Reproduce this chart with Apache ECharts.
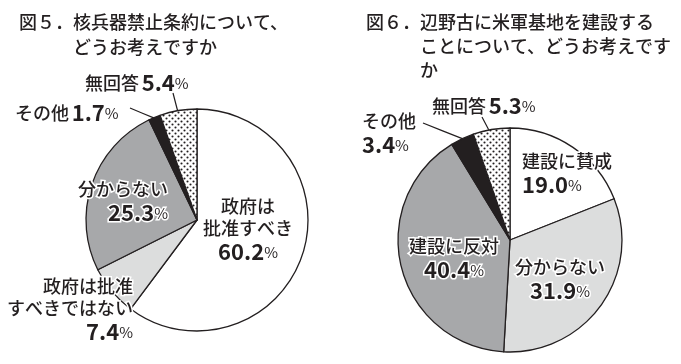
<!DOCTYPE html>
<html><head><meta charset="utf-8">
<script src="https://cdn.jsdelivr.net/npm/echarts@6/dist/echarts.min.js"></script>
<style>html,body{margin:0;padding:0;background:#fff}#c{width:681px;height:364px}</style>
</head><body><div id="c"></div>
<script>
// ---- data ----
const title1 = '図５．核兵器禁止条約について、\n　　　どうお考えですか';
const title2 = '図６．辺野古に米軍基地を建設する\n　　　ことについて、どうお考えです\n　　　か';
const cats1 = ['政府は批准すべき', '政府は批准すべきではない', '分からない', 'その他', '無回答'];
const labelText1 = ['政府は\n批准すべき', '政府は批准\nすべきではない', '分からない', 'その他', '無回答'];
const values1 = [60.2, 7.4, 25.3, 1.7, 5.4];
const cats2 = ['建設に賛成', '分からない', '建設に反対', 'その他', '無回答'];
const labelText2 = ['建設に賛成', '分からない', '建設に反対', 'その他', '無回答'];
const values2 = [19.0, 31.9, 40.4, 3.4, 5.3];

// ---- style / layout ----
const FONT = '"Noto Sans CJK JP", "Noto Sans", sans-serif';
const INK = '#231f20';
const sep1 = ['\n', '\n', '\n', ' ', ' '];
const sep2 = ['\n', '\n', '\n', '\n', ' '];
const outside1 = [false, false, false, true, true];
const outside2 = [false, false, false, true, true];
const P1 = {c: [197, 220], r: 111};
const P2 = {c: [510, 240], r: 112};
const layout1 = [
  {x: 248, y: 230, align: 'center'},
  {x: 133, y: 310, align: 'right'},
  {x: 168, y: 202, align: 'right'},
  {x: 15, y: 113, align: 'left', from: [130, 108], inset: 1},
  {x: 85, y: 83, align: 'left', from: [173, 93], inset: 8}
];
const layout2 = [
  {x: 522, y: 174, align: 'left'},
  {x: 560, y: 280, align: 'center'},
  {x: 454, y: 259, align: 'center'},
  {x: 362, y: 134, align: 'left', from: [423, 123], inset: 0},
  {x: 432, y: 106, align: 'left', from: [482, 117], inset: 8}
];

// dotted pattern
const pc = document.createElement('canvas');
pc.width = 6; pc.height = 6;
const g = pc.getContext('2d');
g.fillStyle = '#fff'; g.fillRect(0, 0, 6, 6);
g.fillStyle = INK;
[[1.5, 1.5], [4.5, 4.5]].forEach(p => { g.beginPath(); g.arc(p[0], p[1], 1.05, 0, Math.PI * 2); g.fill(); });
const colors = ['#ffffff', '#dcdddd', '#a7a8aa', INK, {image: pc, repeat: 'repeat'}];

function buildData(cats, vals, texts, seps, outside) {
  return cats.map((c, i) => ({
    name: c,
    value: vals[i],
    itemStyle: {color: colors[i]},
    label: {
      position: outside[i] ? 'outside' : 'inside',
      formatter: texts[i].split('\n').map(l => '{n|' + l + '}').join('\n') + seps[i] + '{b|' + vals[i].toFixed(1) + '}{p|%}'
    },
    labelLine: {show: outside[i]}
  }));
}

const rich = {
  n: {fontSize: 18, lineHeight: 22, color: INK, fontFamily: FONT, fontWeight: 500},
  b: {fontSize: 22, lineHeight: 26, fontWeight: 'bold', color: INK, fontFamily: FONT},
  p: {fontSize: 15, lineHeight: 26, color: INK, fontFamily: FONT}
};

function midPoint(vals, idx, P, inset) {
  const total = vals.reduce((a, b) => a + b, 0);
  let cum = 0;
  for (let i = 0; i < idx; i++) cum += vals[i];
  const frac = (cum + vals[idx] / 2) / total;
  const a = frac * 2 * Math.PI;
  const rr = P.r - inset;
  return [P.c[0] + Math.sin(a) * rr, P.c[1] - Math.cos(a) * rr];
}

function series(data, vals, P, layout) {
  return {
    type: 'pie',
    center: P.c,
    radius: P.r,
    startAngle: 90,
    clockwise: true,
    avoidLabelOverlap: false,
    data: data,
    itemStyle: {borderColor: INK, borderWidth: 1.3},
    label: {show: true, rich: rich, textBorderColor: '#fff', textBorderWidth: 3, fontFamily: FONT},
    labelLine: {lineStyle: {color: INK, width: 1.2}, length: 10, length2: 0},
    labelLayout: function (params) {
      const L = layout[params.dataIndex];
      const out = {x: L.x, y: L.y, align: L.align, verticalAlign: 'middle'};
      if (L.from) {
        const end = midPoint(vals, params.dataIndex, P, L.inset);
        out.labelLinePoints = [L.from, [(L.from[0] + end[0]) / 2, (L.from[1] + end[1]) / 2], end];
      }
      return out;
    },
    emphasis: {disabled: true}
  };
}

const chart = echarts.init(document.getElementById('c'), null, {renderer: 'canvas'});
chart.setOption({
  animation: false,
  backgroundColor: '#fff',
  title: [
    {text: title1, left: 14, top: 5, textStyle: {fontSize: 18, fontWeight: 500, color: INK, lineHeight: 25, fontFamily: FONT}},
    {text: title2, left: 361, top: 5, textStyle: {fontSize: 18, fontWeight: 500, color: INK, lineHeight: 24, fontFamily: FONT}}
  ],
  series: [
    series(buildData(cats1, values1, labelText1, sep1, outside1), values1, P1, layout1),
    series(buildData(cats2, values2, labelText2, sep2, outside2), values2, P2, layout2)
  ]
});
</script></body></html>
